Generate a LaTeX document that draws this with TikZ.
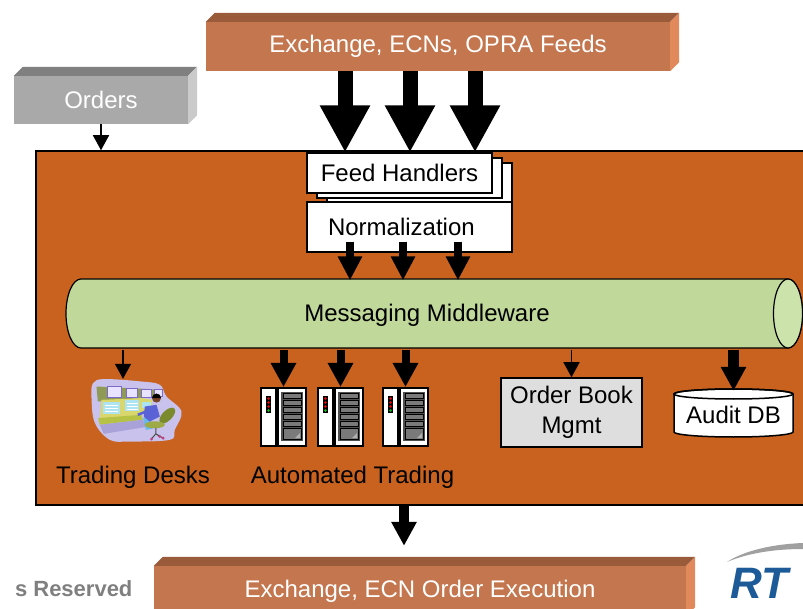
\documentclass[tikz,border=0pt]{standalone}
\usepackage{fontspec}
\setmainfont{Liberation Sans}
\usetikzlibrary{arrows.meta,shadows}

\tikzset{
  slab/.style={fill=#1, inner sep=0pt, text=white},
  whitebox/.style={draw=black, line width=1.2pt, fill=white, inner sep=0pt},
  rack/.style={draw=black, line width=2pt, fill=white, inner sep=0pt, minimum width=45pt, minimum height=58pt},
  fatarrow/.style={line width=15pt, -{Triangle[length=47pt,width=47pt]}},
  normarrow/.style={line width=8pt, -{Triangle[length=24pt,width=23pt]}},
  midarrow/.style={line width=8pt, -{Triangle[length=24pt,width=24pt]}},
  thinarrow/.style={line width=1.5pt, -{Triangle[length=15pt,width=16pt]}},
}

% top and side face of a raised box: node, top colour, side colour
\newcommand\slabfaces[3]{%
  \fill[#2] (#1.north west) -- ++(9pt,9pt) -- ([shift={(9pt,9pt)}]#1.north east) -- (#1.north east) -- cycle;
  \fill[#3] (#1.north east) -- ++(9pt,9pt) -- ([shift={(9pt,9pt)}]#1.south east) -- (#1.south east) -- cycle;}

\begin{document}
\begin{tikzpicture}[x=1pt, y=-1pt, every node/.style={font=\fontsize{24}{30}\selectfont}]
\definecolor{hubfill}{HTML}{C9621F}
\definecolor{slabfront}{HTML}{C4764E}
\definecolor{slabtop}{HTML}{9A5B3B}
\definecolor{slabside}{HTML}{E2895C}
\definecolor{ordfront}{HTML}{A9A9A9}
\definecolor{ordtop}{HTML}{808080}
\definecolor{ordside}{HTML}{CACACA}
\definecolor{mwbody}{HTML}{C0D899}
\definecolor{mwend}{HTML}{CCE3AC}
\definecolor{obgrey}{HTML}{DEDEDE}
\definecolor{rackgrey}{HTML}{505050}
\definecolor{slotgrey}{HTML}{7A7A7A}
\definecolor{slotlight}{HTML}{B0B0B0}
\definecolor{resgrey}{HTML}{7F7F7F}
\definecolor{rtiblue}{HTML}{1D5A98}
\definecolor{swoosh}{HTML}{A0A0A0}
\definecolor{deskbg}{HTML}{C8C2EC}
\definecolor{consoledark}{HTML}{8E9A55}
\definecolor{screenlav}{HTML}{E8E4FF}
\definecolor{screenrim}{HTML}{7D6AC8}
\definecolor{consolefront}{HTML}{D9D66B}
\definecolor{lowscreen}{HTML}{ADE3F2}
\definecolor{keystrip}{HTML}{B5C245}
\definecolor{deskbase}{HTML}{A9A2D8}
\definecolor{shirt}{HTML}{5A62D6}
\definecolor{pants}{HTML}{69B9E8}
\definecolor{skin}{HTML}{7A4426}
\definecolor{chair}{HTML}{7C8A2E}
\definecolor{chairlight}{HTML}{9DAA45}
\definecolor{wheel}{HTML}{C0407F}

\useasboundingbox (0,0) rectangle (803,609);
\clip (0,0) rectangle (803,609);

% trading platform
\node[draw=black, line width=1.5pt, fill=hubfill, minimum width=794pt, minimum height=354pt] (hub) at (433,328) {};

% raised boxes outside
\node[slab=slabfront, minimum width=464pt, minimum height=49pt] (feeds) at (438,46.5) {Exchange, ECNs, OPRA Feeds};
\slabfaces{feeds}{slabtop}{slabside}
\node[slab=ordfront, minimum width=174pt, minimum height=48pt] (orders) at (101,100) {Orders};
\slabfaces{orders}{ordtop}{ordside}
\node[slab=slabfront, minimum width=532pt, minimum height=50pt] (exec) at (420,591) {Exchange, ECN Order Execution};
\slabfaces{exec}{slabtop}{slabside}

% feed handlers and normalization
\node[whitebox, minimum width=185pt, minimum height=40pt,
  copy shadow={shadow xshift=20pt, shadow yshift=-10pt, fill=white, draw=black, line width=1.2pt},
  copy shadow={shadow xshift=10pt, shadow yshift=-5pt, fill=white, draw=black, line width=1.2pt}]
  (fh) at (399.5,173) {Feed Handlers};
\node[whitebox, minimum height=50pt, text width=163pt, inner xsep=21pt, align=left] (norm) at (409.5,227) {Normalization};

% messaging bus
\filldraw[fill=mwbody, draw=black, line width=1.2pt] (788,279) -- (81,279)
  arc[start angle=90, end angle=270, x radius=15pt, y radius=34.5pt] -- (788,348)
  arc[start angle=-90, end angle=90, x radius=14.5pt, y radius=34.5pt] -- cycle;
\filldraw[fill=mwend, draw=black, line width=1.2pt] (788,313.5) ellipse[x radius=14.5pt, y radius=34.5pt];
\node[minimum width=700pt, minimum height=69pt, inner sep=0pt] (mw) at (427,315) {Messaging Middleware};

% trading desk
\node[minimum width=90pt, minimum height=63pt, inner sep=0pt] (desk) at (137,410.5) {};
\begin{scope}[shift={(desk.north west)}]
  \fill[deskbg] plot[smooth cycle, tension=0.6] coordinates {(1.3,4.3) (13,0.3) (49.7,2.7) (68,6) (74.7,17.7)
    (89.7,32.7) (83,51) (78,61) (38,62.7) (18,61) (3,44) (-0.3,19)};
  \fill[consoledark] (4.7,7.7) -- (71,11) -- (68,17.7) -- (6,22.7) -- cycle;
  \filldraw[fill=screenlav, draw=screenrim, line width=1pt] (16,8) rectangle (29.5,19);
  \filldraw[fill=screenlav, draw=screenrim, line width=1pt] (35,9.5) rectangle (46,19);
  \filldraw[fill=screenlav, draw=screenrim, line width=1pt] (50,10.5) rectangle (59.5,19);
  \filldraw[fill=screenlav, draw=screenrim, line width=1pt] (63,11) rectangle (71,18);
  \fill[consolefront] (9.7,21) -- (51,19.3) -- (60,21) -- (60,33) -- (48,36) -- (8,41) -- cycle;
  \fill[lowscreen] (11.3,23) rectangle (28,35.5);
  \fill[lowscreen] (33,21.5) rectangle (47.5,32.5);
  \fill[lowscreen] (50,23) rectangle (59,29.5);
  \foreach \s in {26,29,32}
    \draw[white, line width=0.6pt] (13,\s) -- (26,\s) (35,\s-2) -- (46,\s-2);
  \fill[keystrip] (6.3,39.3) -- (49.7,36) -- (51,41) -- (8,46) -- cycle;
  \fill[deskbase] (8,46) -- (51,41) -- (55,48) -- (12,55) -- cycle;
  % operator
  \fill[pants] (51.3,39.3) -- (58,38) -- (61,50) -- (54,51) -- cycle;
  \fill[shirt] (53,27.7) -- (64.7,26) -- (68,37.7) -- (58,42.7) -- (52,38) -- cycle;
  \draw[shirt, line width=2.5pt] (56,32) -- (46,36);
  \fill[skin] (64.7,19.3) circle[radius=4.5pt];
  \fill[black] (60.2,19.3) arc[start angle=180, end angle=0, radius=4.5pt] -- cycle;
  \fill[chair, rotate around={45:(75.5,36.8)}] (75.5,36.8) ellipse[x radius=10pt, y radius=5pt];
  \fill[chairlight] (63,46) ellipse[x radius=10pt, y radius=3.5pt];
  \draw[black!70, line width=1pt] (64,49) -- (64,55) -- (59.7,60) (64,55) -- (71.3,59.3) (64,55) -- (68,57.7);
  \foreach \p in {(59.7,60.3),(71.3,59.3),(68,57.7)}
    \fill[wheel] \p circle[radius=1.6pt];
\end{scope}

% automated trading servers
\node[rack] (srv1) at (283.5,417) {};
\node[rack] (srv2) at (340.5,417) {};
\node[rack] (srv3) at (405.5,417) {};
\foreach \s in {srv1,srv2,srv3} {
  \begin{scope}[shift={(\s.north west)}]
    \fill[black] (15,0) rectangle (19,58);
    \fill[rackgrey] (21,5) rectangle (43,54);
    \foreach \k in {0,...,4}
      \draw[line width=0.8pt, fill=slotgrey] (23,6.5+7*\k) rectangle (41,11+7*\k);
    \draw[line width=0.8pt, fill=slotgrey] (23,41) rectangle (41,52);
    \fill[slotlight] (40,46) -- (40,51) -- (35,51) -- cycle;
    \fill[black] (6,9) rectangle (11,26);
    \foreach \d in {11.5,15.5,19.5}
      \fill[red] (8.5,\d) circle[radius=1.3pt];
    \fill[green!80!black] (8.5,23.5) circle[radius=1.3pt];
  \end{scope}
}

% order book
\node[draw=black, line width=1.5pt, fill=obgrey, minimum width=141pt, minimum height=69pt, align=center] (ob) at (571.5,412.5) {Order Book\\Mgmt};

% audit database
\filldraw[fill=white, line width=1.5pt] (674,394) -- (674,432)
  arc[start angle=180, end angle=360, x radius=59.5pt, y radius=5pt] -- (793,394)
  arc[start angle=0, end angle=180, x radius=59.5pt, y radius=5pt] -- cycle;
\draw[line width=1.5pt] (733.5,394) ellipse[x radius=59.5pt, y radius=5pt];
\node[minimum width=119pt, minimum height=48pt, inner sep=0pt] (audit) at (733.5,415) {Audit DB};

% labels
\node (desklbl) at (133,477) {Trading Desks};
\node (autolbl) at (352.5,477) {Automated Trading};

% feeds in
\foreach \x [count=\i] in {345,410,475} {
  \coordinate (feedin\i) at (\x,0);
  \draw[fatarrow] (feedin\i |- feeds.south) -- (feedin\i |- fh.north);
}
\foreach \x [count=\i] in {350,403,458} {
  \coordinate (normout\i) at (\x,0);
  \draw[normarrow, shorten <=-11pt] (normout\i |- norm.south) -- (normout\i |- mw.north);
}
\draw[thinarrow] (orders.south) -- (orders.south |- hub.north);

% bus out
\coordinate (deskin) at ([xshift=-14pt]desk.north);
\draw[thinarrow] (deskin |- mw.south) -- (deskin);
\foreach \s in {srv1,srv2,srv3}
  \draw[midarrow] (\s.north |- mw.south) -- (\s.north);
\draw[thinarrow] (ob.north |- mw.south) -- (ob.north);
\draw[midarrow, line width=11pt] (audit.north |- mw.south) -- (audit.north);

% orders out
\coordinate (execin) at ([xshift=-16pt, yshift=20pt]exec.north);
\draw[midarrow, line width=10pt] (execin |- hub.south) -- (execin);

% footer
\node[anchor=base east, text=resgrey, font=\fontsize{22}{22}\bfseries\selectfont] (rights) at (136,596) {s Reserved};
\fill[swoosh] (727,562) .. controls (745,550) and (775,544) .. (803,543) -- (803,549) .. controls (775,549) and (748,553) .. (727,562) -- cycle;
\node[anchor=base west, text=rtiblue, font=\fontsize{44}{44}\bfseries\itshape\selectfont, inner sep=0pt] (rti) at (730,598) {RT};
\end{tikzpicture}
\end{document}
